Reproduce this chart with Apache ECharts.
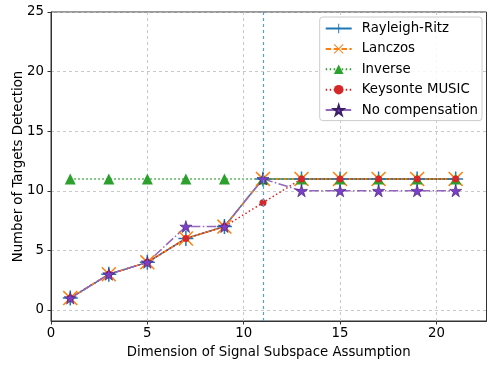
<!DOCTYPE html>
<html><head><meta charset="utf-8">
<script src="https://cdn.jsdelivr.net/npm/echarts@6/dist/echarts.min.js"></script>
<style>html,body{margin:0;padding:0;background:#fff}#c{width:488px;height:366px}</style>
</head><body><div id="c"></div>
<script>
const xs = [1,3,5,7,9,11,13,15,17,19,21];
const rayleighRitz = [1,3,4,6,7,11,11,11,11,11,11];
const lanczos = [1,3,4,6,7,11,11,11,11,11,11];
const inverse = [11,11,11,11,11,11,11,11,11,11,11];
const keysonteMusic = [1,3,4,6,7,9,11,11,11,11,11];
const noCompensation = [1,3,4,7,7,11,10,10,10,10,10];
const xTicks = [0,5,10,15,20];
const yTicks = [0,5,10,15,20,25];
const thresholdX = 11;

const font = 'DejaVu Sans';
const FS = 13.3;
const PLUS = 'path://M9,0 H11 V20 H9 Z M0,9 H20 V11 H0 Z';
const CROSS = 'path://M0,1.4 L1.4,0 L10,8.6 L18.6,0 L20,1.4 L11.4,10 L20,18.6 L18.6,20 L10,11.4 L1.4,20 L0,18.6 L8.6,10 Z';
const STAR = 'path://M10,0 L12.25,6.91 L19.51,6.91 L13.63,11.18 L15.88,18.09 L10,13.82 L4.12,18.09 L6.37,11.18 L0.49,6.91 L7.75,6.91 Z';
const pair = a => a.map((v,i)=>[xs[i],v]);

function mk(name, data, color, dash, symbol, size, extra) {
  return Object.assign({
    name, type:'line', data: pair(data), symbol, symbolSize:size,
    showAllSymbol:true, animation:false, clip:false,
    lineStyle:{color, width:1.5, type:dash},
    itemStyle:{color, borderWidth:0},
    emphasis:{disabled:true}
  }, extra||{});
}

const chart = echarts.init(document.getElementById('c'), null, {renderer:'canvas'});
chart.setOption({
  backgroundColor:'#fff',
  animation:false,
  grid:{left:51, right:1.5, top:12, bottom:45, outerBoundsMode:'none', containLabel:false,
    show:true, borderColor:'#333', borderWidth:1, backgroundColor:'transparent'},
  xAxis:{type:'value', min:0, max:22.6,
    name:'Dimension of Signal Subspace Assumption', nameLocation:'middle', nameGap:25,
    nameMoveOverlap:false,
    nameTextStyle:{fontFamily:font, fontSize:FS, color:'#000'},
    axisLine:{show:true, onZero:false, lineStyle:{color:'#333'}},
    axisTick:{show:true, length:3.5, customValues:xTicks, lineStyle:{color:'#333'}},
    axisLabel:{customValues:xTicks, fontFamily:font, fontSize:FS, color:'#000', margin:6},
    splitLine:{show:true, lineStyle:{color:'#bbb', type:[3,3], width:0.8}}
  },
  yAxis:{type:'value', min:-0.92, max:25,
    name:'Number of Targets Detection', nameLocation:'middle', nameGap:26,
    nameMoveOverlap:false,
    nameTextStyle:{fontFamily:font, fontSize:FS, color:'#000'},
    axisLine:{show:true, onZero:false, lineStyle:{color:'#333'}},
    axisTick:{show:true, length:3.5, customValues:yTicks, lineStyle:{color:'#333'}},
    axisLabel:{customValues:yTicks, fontFamily:font, fontSize:FS, color:'#000', margin:7},
    splitLine:{show:true, lineStyle:{color:'#bbb', type:[3,3], width:0.8}}
  },
  legend:{right:6, top:17, orient:'vertical', align:'left',
    itemWidth:26, itemHeight:12, itemGap:7.4,
    padding:[5,4,4,5],
    backgroundColor:'rgba(255,255,255,0.85)', borderColor:'#ccc', borderWidth:1, borderRadius:3,
    textStyle:{fontFamily:font, fontSize:FS, color:'#000', padding:[0,0,0,5]},
    data:['Rayleigh-Ritz','Lanczos','Inverse','Keysonte MUSIC','No compensation']
  },
  series:[
    mk('Rayleigh-Ritz', rayleighRitz, '#1f77b4', 'solid', PLUS, 15, {
      markLine:{silent:true, symbol:'none', label:{show:false}, animation:false,
        lineStyle:{color:'#5b9bd0', type:[3,3], width:1.2},
        data:[{xAxis:thresholdX}]}
    }),
    mk('Lanczos', lanczos, '#ff7f0e', [5.5,2.4], CROSS, 15),
    mk('Inverse', inverse, '#2ca02c', [1.5,2.5], 'triangle', 11),
    mk('Keysonte MUSIC', keysonteMusic, '#d62728', [1.5,2.5], 'circle', 7),
    mk('No compensation', noCompensation, '#9467bd', [9.6,2.4,1.5,2.4], STAR, 12, {
      itemStyle:{color:'#7b3fc8', borderColor:'#3a1f66', borderWidth:0.6}
    })
  ]
});
</script></body></html>
